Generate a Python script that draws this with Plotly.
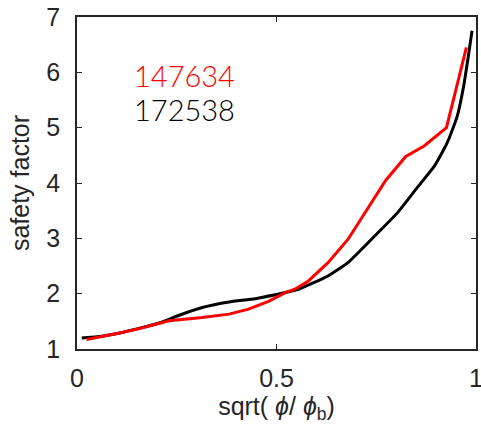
import plotly.graph_objects as go

# black curve: shot 172538
x_black = [0.012, 0.05, 0.107, 0.17, 0.206, 0.256, 0.314, 0.381, 0.447, 0.522, 0.555,
           0.629, 0.679, 0.754, 0.803, 0.853, 0.895, 0.928, 0.953, 0.969, 0.982, 0.990]
y_black = [1.20, 1.22, 1.29, 1.40, 1.47, 1.61, 1.75, 1.85, 1.91, 2.02, 2.08,
           2.32, 2.56, 3.10, 3.46, 3.92, 4.30, 4.73, 5.21, 5.75, 6.35, 6.75]

# red curve: shot 147634
x_red = [0.024, 0.06, 0.107, 0.157, 0.231, 0.314, 0.381, 0.430, 0.480, 0.522, 0.546,
         0.580, 0.629, 0.679, 0.727, 0.774, 0.824, 0.870, 0.926, 0.976]
y_red = [1.17, 1.22, 1.29, 1.37, 1.51, 1.57, 1.63, 1.72, 1.86, 2.02, 2.08,
         2.23, 2.56, 2.98, 3.52, 4.05, 4.48, 4.67, 5.00, 6.45]

labels = ["147634", "172538"]
label_colors = ["#ff0000", "#000000"]

x_ticks = [0, 0.5, 1]
x_tick_text = ["0", "0.5", "1"]
y_ticks = [1, 2, 3, 4, 5, 6, 7]

fig = go.Figure()
fig.add_trace(go.Scatter(x=x_black, y=y_black, mode="lines",
                         line=dict(color="#000000", width=3, shape="spline", smoothing=0.5),
                         showlegend=False))
fig.add_trace(go.Scatter(x=x_red, y=y_red, mode="lines",
                         line=dict(color="#ff0000", width=3),
                         showlegend=False))

for i, (t, c) in enumerate(zip(labels, label_colors)):
    fig.add_annotation(x=0.137, y=5.95 - 0.62 * i, xref="x", yref="y", text=t,
                       showarrow=False, xanchor="left", yanchor="middle",
                       font=dict(family="Lato", size=29, color=c, weight=300))

axis_common = dict(showline=True, linecolor="#262626", linewidth=1.5, mirror="ticks",
                   ticks="inside", ticklen=5, tickwidth=1, tickcolor="#262626",
                   showgrid=False, zeroline=False, automargin=False,
                   ticklabeloverflow="allow",
                   tickfont=dict(family="Liberation Sans", size=25, color="#262626"))

fig.update_xaxes(range=[0, 1], tickvals=x_ticks, ticktext=x_tick_text,
                 ticklabelstandoff=6,
                 title=dict(text="sqrt( <i>ϕ</i>/ <i>ϕ</i><sub>b</sub>)",
                            font=dict(family="Liberation Sans", size=25, color="#262626"),
                            standoff=4),
                 **axis_common)
fig.update_yaxes(range=[1, 7], tickvals=y_ticks,
                 ticklabelstandoff=10,
                 title=dict(text="safety factor",
                            font=dict(family="Liberation Sans", size=25, color="#262626"),
                            standoff=10),
                 **axis_common)

fig.update_layout(width=481, height=439, margin=dict(l=77, r=5, t=17, b=90),
                  plot_bgcolor="white", paper_bgcolor="white")

fig.write_html("out.html")
